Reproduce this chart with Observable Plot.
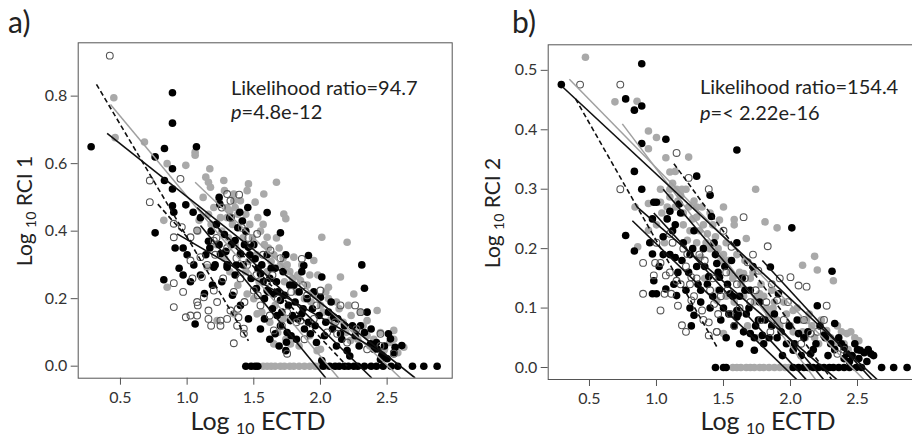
<!DOCTYPE html>
<html><head><meta charset="utf-8">
<script src="https://cdn.jsdelivr.net/npm/d3@7"></script>
<script src="https://cdn.jsdelivr.net/npm/@observablehq/plot@0.6"></script>
<style>
html,body{margin:0;padding:0;background:#fff}
body{width:912px;height:438px;overflow:hidden;position:relative;font-family:Lato,"Open Sans",sans-serif}
.panel{position:absolute;top:0;height:438px}
.panel svg{max-width:none !important}
#overlay{position:absolute;left:0;top:0;pointer-events:none}
</style></head><body>
<div id="pa" class="panel" style="left:0;width:460px"></div>
<div id="pb" class="panel" style="left:460px;width:470px"></div>
<svg id="overlay" width="912" height="438"></svg>
<script>
// ---------- shared ----------
const xTicks = [0.5, 1.0, 1.5, 2.0, 2.5];
const aYTicks = [0, 0.2, 0.4, 0.6, 0.8];
const bYTicks = [0, 0.1, 0.2, 0.3, 0.4, 0.5];

// ---------- panel a: Log10 RCI 1 ----------
const aBlack = [
[0.28,0.65],[0.89,0.81],[0.89,0.72],[0.83,0.645],[1.07,0.65],[0.76,0.62],[0.89,0.585],[0.83,0.55],[0.89,0.525],[0.89,0.475],
[0.76,0.395],[0.99,0.478],[1.045,0.456],[0.9,0.456],[1.1,0.44],[1.24,0.50],[1.245,0.48],[1.395,0.456],[1.455,0.47],[1.415,0.43],
[1.6,0.455],[1.7,0.395],[0.825,0.256],[0.91,0.35],[0.94,0.29],[0.97,0.27],[0.97,0.35],[1.025,0.25],[1.06,0.125],[1.13,0.215],
[1.17,0.35],[1.2,0.293],[1.25,0.333],[1.3,0.293],[1.36,0.372],[1.4,0.333],[1.46,0.352],[1.51,0.318],[1.55,0.274],[1.6,0.224],
[1.65,0.214],[1.7,0.195],[1.66,0.096],[1.74,0.046],[1.745,0.071],[1.675,0.15],[1.775,0.135],[1.86,0.155],[1.875,0.298],[1.91,0.328],
[2.01,0.264],[2.0,0.204],[1.925,0.096],[2.01,0.017],[2.1,0.145],[2.15,0.096],[2.2,0.046],[2.31,0.30],[2.33,0.231],[2.35,0.16],
[2.3,0.12],[2.375,0.066],[2.425,0.051],[2.51,0.096],[2.525,0.081],[2.56,0.056],[2.61,0.061],[2.46,0.032],[2.5,0.022],
[1.22,0.42],[1.28,0.39],[1.33,0.36],[1.30,0.30],[1.36,0.27],[1.42,0.30],[1.48,0.26],[1.52,0.23],[1.56,0.30],[1.58,0.20],
[1.62,0.26],[1.64,0.17],[1.68,0.22],[1.70,0.12],[1.72,0.28],[1.76,0.18],[1.78,0.09],[1.80,0.24],[1.83,0.14],[1.88,0.11],
[1.90,0.20],[1.94,0.17],[1.97,0.07],[2.04,0.13],[2.08,0.19],[2.12,0.06],[2.18,0.12],[2.22,0.03],[2.26,0.09],[2.38,0.11],
[2.42,0.07],[2.45,0.02],[1.18,0.40],[1.14,0.33],[1.26,0.25],[1.34,0.21],[1.40,0.18],[1.46,0.14],[1.55,0.11],[1.62,0.08],
[1.05,0.30],[1.10,0.27],[1.00,0.33],[1.19,0.24],[1.44,0.40],[1.50,0.36],[1.60,0.33],[1.66,0.29],[1.74,0.33],[1.86,0.28],
[1.32,0.44],[1.38,0.41],[1.43,0.36],[1.47,0.33],[1.53,0.29],[1.57,0.25],[1.61,0.22],[1.63,0.29],[1.67,0.25],[1.71,0.16],
[1.73,0.21],[1.77,0.24],[1.79,0.15],[1.81,0.19],[1.84,0.22],[1.87,0.17],[1.91,0.13],[1.95,0.22],[1.99,0.15],[2.03,0.09],
[2.06,0.16],[2.09,0.11],[2.13,0.14],[2.16,0.08],[2.24,0.12],[2.29,0.06],[2.33,0.10],[2.40,0.05],[2.48,0.06],[2.55,0.04],
[1.24,0.36],[1.29,0.34],[1.16,0.37],[1.21,0.30],[1.37,0.30],[1.58,0.14],[1.69,0.06],[1.75,0.10],[1.82,0.08],[1.96,0.12]
];
const aBlackZero = [1.44,1.48,1.51,1.53,2.02,2.07,2.11,2.14,2.18,2.21,2.25,2.28,2.33,2.38,2.42,2.47,2.53,2.58,2.69,2.775,2.875];
const aGray = [
[0.45,0.795],[0.46,0.677],[0.68,0.664],[0.85,0.60],[0.99,0.595],[1.06,0.625],[1.06,0.634],[1.17,0.585],[1.14,0.56],[1.16,0.545],
[1.175,0.53],[1.275,0.55],[1.46,0.54],[1.51,0.486],[1.575,0.51],[1.67,0.545],[1.725,0.451],[1.74,0.437],[0.825,0.432],[1.09,0.432],
[1.35,0.49],[1.3,0.44],[2.01,0.382],[2.2,0.367],[2.15,0.264],[0.85,0.234],[1.6,0.382],[1.8,0.323],[1.95,0.313],[1.85,0.254],
[2.06,0.234],[2.25,0.214],[2.425,0.165],[2.35,0.135],[2.55,0.106],[2.625,0.056],[1.525,0.155],[1.65,0.066],[1.775,0.066],[1.975,0.046],
[2.225,0.076],[2.475,0.046],[1.225,0.135],[1.35,0.155],[1.45,0.214],[1.15,0.293],
[1.20,0.47],[1.25,0.44],[1.30,0.47],[1.34,0.42],[1.38,0.45],[1.42,0.38],[1.47,0.42],[1.52,0.33],[1.55,0.40],[1.58,0.36],
[1.63,0.31],[1.67,0.38],[1.70,0.30],[1.73,0.25],[1.77,0.28],[1.82,0.22],[1.86,0.30],[1.90,0.24],[1.93,0.19],[1.98,0.27],
[2.02,0.16],[2.06,0.20],[2.10,0.12],[2.14,0.17],[2.19,0.10],[2.23,0.15],[2.28,0.08],[2.32,0.12],[2.37,0.06],[2.45,0.10],
[2.52,0.07],[2.58,0.04],[1.12,0.50],[1.16,0.45],[1.08,0.40],[1.22,0.36],[1.28,0.32],[1.32,0.28],[1.38,0.24],[1.44,0.28],
[1.50,0.20],[1.56,0.16],[1.62,0.13],[1.68,0.10],[1.74,0.08],[1.84,0.06],[1.92,0.09],[2.00,0.05],[1.35,0.51],[1.40,0.49],
[1.45,0.52],[1.28,0.52],
[1.24,0.49],[1.32,0.46],[1.36,0.47],[1.41,0.43],[1.44,0.45],[1.49,0.38],[1.53,0.44],[1.57,0.42],[1.61,0.35],[1.65,0.33],
[1.69,0.35],[1.72,0.32],[1.75,0.30],[1.79,0.26],[1.83,0.27],[1.88,0.20],[1.92,0.27],[1.96,0.21],[2.00,0.18],[2.04,0.22],
[2.08,0.14],[2.12,0.19],[2.17,0.13],[2.21,0.18],[2.26,0.11],[2.30,0.16],[2.35,0.09],[2.40,0.08],[2.48,0.05],[2.55,0.08],
[1.18,0.42],[1.26,0.40],[1.31,0.38],[1.36,0.36],[1.40,0.33],[1.46,0.31],[1.54,0.25],[1.60,0.28],[1.66,0.18],[1.72,0.14]
];
const aGrayZero = [1.57,1.60,1.63,1.66,1.70,1.73,1.77,1.80,1.84,1.88,1.92,1.96,1.99,2.04];
const aOpen = [
[0.42,0.92],[0.72,0.55],[0.72,0.486],[0.95,0.555],[0.9,0.422],[0.9,0.382],[0.96,0.412],[1.025,0.382],[1.025,0.313],[0.9,0.246],
[0.9,0.175],[0.99,0.145],[1.025,0.15],[1.075,0.15],[1.075,0.19],[1.16,0.165],[1.16,0.14],[1.25,0.135],[1.25,0.12],[1.325,0.165],
[1.38,0.17],[1.385,0.145],[1.425,0.111],[1.425,0.096],[1.35,0.068],[1.375,0.12],[1.3,0.51],[1.39,0.508],[1.325,0.49],[1.525,0.392],
[1.625,0.343],[1.86,0.318],[2.15,0.18],[2.26,0.18],[2.3,0.16],[2.0,0.224],[1.11,0.264],[1.125,0.204],[1.2,0.224],[1.225,0.19],
[1.1,0.323],[1.075,0.402],[1.2,0.372],[1.5,0.224],[1.65,0.106],[1.75,0.037],[2.125,0.096],[2.45,0.096],[2.55,0.037],[1.85,0.135],
[1.22,0.38],[1.30,0.35],[1.37,0.32],[1.45,0.30],[1.52,0.27],[1.60,0.25],[1.68,0.20],[1.75,0.16],[1.82,0.13],[1.95,0.14],
[2.05,0.10],[2.20,0.07],[1.15,0.30],[1.27,0.26],[1.35,0.22],[1.43,0.19],[1.55,0.18],[1.62,0.15],[1.04,0.26],[0.97,0.22],
[1.08,0.18],[1.18,0.12],[1.30,0.14],[2.35,0.05],[1.70,0.32],[1.48,0.36],[2.45,0.06],[1.90,0.21],
[1.26,0.47],[1.33,0.44],[1.41,0.41],[1.46,0.38],[1.57,0.33],[1.64,0.27],[1.78,0.22],[1.87,0.24],[1.97,0.18],[2.11,0.13],
[2.27,0.11],[1.21,0.33],[1.40,0.26],[1.53,0.21],[1.71,0.12],[1.88,0.08]
];
// regression lines: x1, y1, x2, y2, style
const aLines = [
[0.40,0.69,2.71,-0.035,"black"],
[0.32,0.835,1.46,0.075,"dash"],
[0.425,0.775,2.135,-0.035,"gray"],
[1.06,0.545,2.60,-0.035,"gray"],
[1.10,0.417,2.04,-0.035,"black"],
[1.075,0.47,2.385,-0.035,"black"],
[0.925,0.392,2.50,0.03,"black"],
[0.78,0.48,1.05,0.36,"dash"],
[1.20,0.42,2.20,0.0,"dash"]
];

// ---------- panel b: Log10 RCI 2 ----------
const bBlack = [
[0.29,0.476],[0.89,0.511],[0.77,0.452],[0.835,0.433],[0.89,0.44],[0.89,0.377],[1.07,0.384],[1.6,0.366],[0.835,0.33],[0.89,0.30],
[0.98,0.278],[1.0,0.278],[1.1,0.263],[1.17,0.275],[1.3,0.322],[1.4,0.29],[1.41,0.254],[0.97,0.25],[0.77,0.222],[0.835,0.196],
[0.97,0.191],[1.05,0.19],[1.14,0.185],[0.98,0.146],[1.0,0.124],[0.97,0.124],[1.07,0.132],[1.15,0.121],[1.25,0.10],[1.28,0.088],
[1.33,0.13],[1.39,0.153],[1.45,0.175],[1.47,0.152],[1.6,0.21],[1.55,0.124],[1.6,0.096],[1.6,0.085],[1.7,0.057],[1.73,0.029],
[1.79,0.054],[1.85,0.169],[1.91,0.124],[2.01,0.235],[2.2,0.104],[2.31,0.162],[2.33,0.074],[2.25,0.054],[2.3,0.04],[2.4,0.034],
[2.42,0.023],[2.52,0.029],[2.6,0.023],[2.51,0.015],[2.62,0.02],[2.06,0.057],[2.02,0.029],[2.15,0.023],
[1.20,0.21],[1.25,0.19],[1.30,0.17],[1.35,0.20],[1.38,0.14],[1.42,0.12],[1.46,0.16],[1.50,0.10],[1.53,0.14],[1.56,0.18],
[1.58,0.07],[1.62,0.12],[1.64,0.15],[1.67,0.09],[1.70,0.13],[1.74,0.07],[1.77,0.11],[1.81,0.08],[1.84,0.05],[1.88,0.09],
[1.93,0.06],[1.97,0.04],[2.05,0.08],[2.10,0.05],[2.17,0.03],[2.22,0.07],[2.28,0.02],[2.36,0.05],[2.40,0.015],[2.46,0.02],
[2.48,0.04],[2.55,0.025],[2.57,0.01],[1.12,0.23],[1.16,0.16],[1.22,0.13],[1.28,0.23],[1.33,0.11],[1.44,0.19],[1.48,0.08],
[1.10,0.19],[1.05,0.22],[1.18,0.26],[1.52,0.05],[1.62,0.04],[1.72,0.17],
[1.08,0.25],[1.14,0.24],[1.19,0.18],[1.24,0.16],[1.27,0.20],[1.31,0.14],[1.36,0.17],[1.40,0.10],[1.43,0.21],[1.47,0.13],
[1.51,0.17],[1.54,0.09],[1.57,0.12],[1.61,0.09],[1.65,0.06],[1.69,0.10],[1.73,0.05],[1.76,0.08],[1.80,0.04],[1.86,0.07],
[1.90,0.05],[1.99,0.07],[2.03,0.04],[2.08,0.02],[2.13,0.06],[2.19,0.04],[2.26,0.05],[2.33,0.03],[2.38,0.04],[2.44,0.01],
[2.50,0.03],[2.58,0.03],[0.95,0.21],[1.02,0.17],[1.13,0.14],[1.26,0.07],[1.66,0.13],[1.94,0.02]
];
const bBlackZero = [1.44,1.50,1.52,2.02,2.06,2.10,2.13,2.17,2.21,2.25,2.29,2.32,2.36,2.40,2.44,2.49,2.53,2.68,2.77,2.87];
const bGray = [
[0.47,0.522],[0.69,0.447],[0.855,0.448],[0.94,0.398],[1.0,0.387],[0.94,0.368],[1.07,0.353],[1.24,0.354],[1.14,0.33],[1.1,0.329],
[1.03,0.30],[1.15,0.30],[1.19,0.30],[1.1,0.287],[1.03,0.278],[0.94,0.276],[1.3,0.27],[1.3,0.253],[1.47,0.248],[1.58,0.249],
[1.74,0.30],[1.67,0.217],[1.81,0.245],[1.9,0.235],[2.09,0.172],[2.18,0.187],[2.2,0.164],[2.32,0.146],[0.84,0.27],[0.86,0.203],
[0.94,0.231],[1.38,0.225],[1.53,0.18],[1.65,0.158],[1.77,0.124],[1.87,0.10],[2.02,0.096],[2.12,0.079],[2.27,0.062],[2.42,0.057],
[2.51,0.045],[1.5,0.057],[1.45,0.113],[1.33,0.186],[1.23,0.214],
[1.20,0.26],[1.25,0.23],[1.30,0.21],[1.35,0.24],[1.40,0.20],[1.44,0.22],[1.48,0.18],[1.52,0.21],[1.55,0.16],[1.60,0.19],
[1.63,0.14],[1.66,0.18],[1.70,0.15],[1.73,0.11],[1.78,0.14],[1.82,0.10],[1.86,0.13],[1.90,0.08],[1.95,0.11],[2.00,0.07],
[2.05,0.10],[2.09,0.06],[2.14,0.09],[2.18,0.05],[2.23,0.08],[2.30,0.05],[2.35,0.07],[2.40,0.04],[2.45,0.06],[1.08,0.27],
[1.12,0.31],[1.16,0.28],[1.22,0.30],[1.28,0.28],[1.34,0.27],[1.40,0.26],[1.46,0.13],[1.58,0.11],[1.68,0.07],[1.76,0.05],
[1.00,0.24],[1.06,0.21],[1.58,0.24],[1.50,0.27],
[1.10,0.30],[1.14,0.27],[1.18,0.29],[1.24,0.27],[1.27,0.25],[1.32,0.23],[1.37,0.21],[1.42,0.24],[1.46,0.20],[1.50,0.19],
[1.54,0.18],[1.57,0.15],[1.62,0.16],[1.65,0.12],[1.69,0.13],[1.72,0.16],[1.75,0.12],[1.80,0.12],[1.84,0.09],[1.88,0.11],
[1.92,0.07],[1.97,0.09],[2.02,0.06],[2.07,0.08],[2.11,0.05],[2.16,0.07],[2.21,0.04],[2.26,0.06],[2.33,0.04],[2.38,0.06],
[2.43,0.03],[2.48,0.05],[1.04,0.26],[1.20,0.24],[1.36,0.15],[1.52,0.12]
];
const bGrayZero = [1.57,1.60,1.63,1.67,1.70,1.73,1.77,1.80,1.84,1.88,1.92,1.96,1.99];
const bOpen = [
[0.43,0.476],[0.73,0.476],[0.73,0.30],[1.15,0.361],[1.24,0.319],[1.39,0.30],[1.65,0.253],[1.83,0.204],[2.27,0.104],[2.0,0.152],
[2.06,0.138],[2.12,0.136],[1.86,0.14],[0.9,0.176],[0.99,0.176],[1.03,0.176],[0.98,0.155],[0.9,0.124],[1.03,0.096],[1.06,0.124],
[1.11,0.124],[1.16,0.104],[1.19,0.071],[1.22,0.06],[1.26,0.113],[1.34,0.096],[1.39,0.076],[1.39,0.054],[1.45,0.06],[1.07,0.155],
[1.15,0.146],[1.26,0.152],[1.56,0.203],[1.68,0.177],[1.76,0.163],[1.9,0.113],[2.15,0.057],[2.35,0.023],[1.53,0.13],[1.43,0.107],
[1.23,0.191],[1.1,0.225],
[1.22,0.17],[1.30,0.15],[1.36,0.18],[1.42,0.15],[1.48,0.12],[1.55,0.09],[1.62,0.10],[1.70,0.11],[1.78,0.08],[1.85,0.06],
[1.95,0.08],[2.08,0.04],[1.12,0.21],[1.18,0.14],[1.28,0.12],[1.35,0.08],[1.45,0.06],[1.60,0.14],[1.72,0.19],[1.92,0.15],
[2.20,0.06],[2.40,0.03],[1.00,0.21],[1.50,0.23],
[1.20,0.20],[1.32,0.19],[1.40,0.13],[1.52,0.16],[1.58,0.07],[1.66,0.15],[1.74,0.13],[1.82,0.11],[1.98,0.11],[2.10,0.08],
[2.25,0.08],[1.10,0.16],[1.25,0.14],[1.46,0.09]
];
const bLines = [
[0.30,0.472,2.65,-0.021,"black"],
[0.35,0.485,2.55,-0.021,"gray"],
[0.745,0.41,2.19,-0.021,"gray"],
[0.396,0.452,1.45,0.035,"dash"],
[1.13,0.343,2.31,-0.021,"dash"],
[0.82,0.247,2.05,-0.021,"black"],
[0.98,0.26,2.12,-0.021,"black"],
[1.05,0.30,2.25,-0.021,"black"],
[0.856,0.27,2.35,-0.021,"black"],
[1.79,0.18,2.61,-0.021,"black"]
];

// ---------- drawing ----------
const R = 3.8;
function panel(cfg) {
  const zeroB = cfg.blackZero.map(x => [x, 0]);
  const zeroG = cfg.grayZero.map(x => [x, 0]);
  const X = d => d[0], Y = d => d[1];
  const lk = {x1: d => d[0], y1: d => d[1], x2: d => d[2], y2: d => d[3], clip: true};
  return Plot.plot({
    width: cfg.width, height: 438,
    marginLeft: cfg.ml, marginRight: cfg.mr, marginTop: cfg.mt, marginBottom: cfg.mb,
    x: {domain: cfg.xDomain},
    y: {domain: cfg.yDomain},
    style: {fontFamily: "Lato, sans-serif", fontSize: "16px", color: "#333", background: "transparent", overflow: "visible"},
    marks: [
      Plot.axisX({ticks: xTicks, tickFormat: d3.format(".1f"), tickSize: 7, tickPadding: 6, label: null, fontSize: 16, stroke: "#555"}),
      Plot.axisY({ticks: cfg.yTicks, tickFormat: d3.format(".1f"), tickSize: 7, tickPadding: 4, label: null, fontSize: 16, stroke: "#555"}),
      Plot.dot(cfg.gray, {x: X, y: Y, r: R, fill: "#a9a9a9", clip: true}),
      Plot.dot(zeroG, {x: X, y: Y, r: R, fill: "#a9a9a9", clip: true}),
      Plot.dot(cfg.black, {x: X, y: Y, r: R, fill: "#000", clip: true}),
      Plot.dot(zeroB, {x: X, y: Y, r: R, fill: "#000", clip: true}),
      Plot.dot(cfg.open, {x: X, y: Y, r: R - 0.4, fill: "none", stroke: "#555", strokeWidth: 1.1, clip: true}),
      Plot.link(cfg.lines.filter(l => l[4] === "gray"), {...lk, stroke: "#a0a0a0", strokeWidth: 1.5}),
      Plot.link(cfg.lines.filter(l => l[4] === "black"), {...lk, stroke: "#111", strokeWidth: 1.6}),
      Plot.link(cfg.lines.filter(l => l[4] === "dash"), {...lk, stroke: "#111", strokeWidth: 1.6, strokeDasharray: "5,3"}),
      Plot.frame({stroke: "#555", strokeWidth: 1})
    ]
  });
}

document.getElementById("pa").append(panel({
  width: 460, ml: 77.7, mr: 8.3, mt: 42.3, mb: 60.3,
  xDomain: [0.183, 2.988], yDomain: [-0.0356, 0.958], yTicks: aYTicks,
  black: aBlack, blackZero: aBlackZero, gray: aGray, grayZero: aGrayZero, open: aOpen, lines: aLines
}));
document.getElementById("pb").append(panel({
  width: 470, ml: 87.7, mr: 8, mt: 44.3, mb: 59,
  xDomain: [0.192, 2.985], yDomain: [-0.0202, 0.543], yTicks: bYTicks,
  black: bBlack, blackZero: bBlackZero, gray: bGray, grayZero: bGrayZero, open: bOpen, lines: bLines
}));

// ---------- text overlay ----------
const svg = d3.select("#overlay").attr("font-family", "Lato, sans-serif").attr("fill", "#222");
function t(x, y, size) { return svg.append("text").attr("x", x).attr("y", y).attr("font-size", size); }
t(8, 33, 30).text("a)");
t(512, 33, 30).text("b)");
function note(x, y1, y2, line1, pval) {
  t(x, y1, 20).text(line1);
  const p = t(x, y2, 20);
  p.append("tspan").attr("font-style", "italic").text("p");
  p.append("tspan").text(pval);
}
note(231, 95, 119, "Likelihood ratio=94.7", "=4.8e-12");
note(700, 94, 120, "Likelihood ratio=154.4", "=< 2.22e-16");
function xTitle(cx) {
  const e = t(cx, 430, 25).attr("text-anchor", "middle");
  e.append("tspan").text("Log ");
  e.append("tspan").attr("font-size", 16).attr("dy", 4).text("10");
  e.append("tspan").attr("dy", -4).text(" ECTD");
}
xTitle(258); xTitle(768);
function yTitle(cx, cy, num) {
  const e = svg.append("text").attr("transform", `translate(${cx},${cy}) rotate(-90)`)
    .attr("text-anchor", "middle").attr("font-size", 21);
  e.append("tspan").text("Log ");
  e.append("tspan").attr("font-size", 14).attr("dy", 4).text("10");
  e.append("tspan").attr("dy", -4).text(" RCI " + num);
}
yTitle(32, 211, "1"); yTitle(500, 213, "2");
</script>
</body></html>
